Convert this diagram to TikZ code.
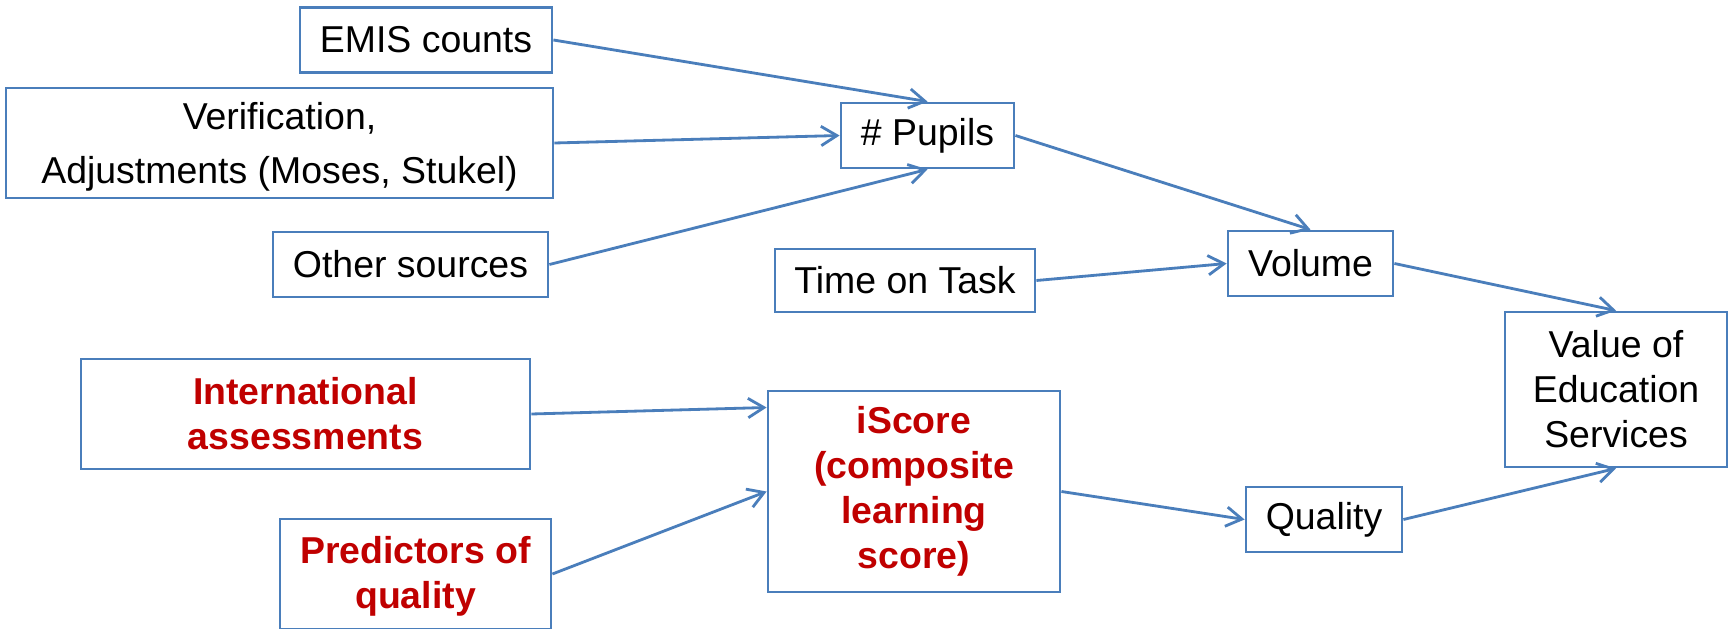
\documentclass[tikz,border=0pt]{standalone}
\usepackage{fontspec}
\setmainfont{Liberation Sans}
\usetikzlibrary{arrows.meta,calc}
\definecolor{boxblue}{HTML}{4A7EBB}
\definecolor{darkred}{HTML}{C00000}
\begin{document}
\begin{tikzpicture}[x=0.2mm,y=-0.2mm,
  sz/.style 2 args={minimum width=#1*0.2mm, minimum height=#2*0.2mm},
  box/.style={draw=boxblue,line width=1.6pt,fill=white,inner sep=0pt,align=center,
    font=\fontsize{21.3pt}{25.6pt}\selectfont},
  redbox/.style={box,text=darkred,font=\fontsize{21.3pt}{25.6pt}\selectfont\bfseries},
  conn/.style={draw=boxblue,line width=1.6pt,-{Straight Barb[length=9pt,width=11pt]}}]
\clip (0,0) rectangle (1729,629);
\fill[white] (0,0) rectangle (1729,629);

\node[box,sz={252}{65}] (emis) at (426,40) {EMIS counts};
\node[box,sz={547}{110}] (verif) at (279.5,143) {\rule{0pt}{20pt}Verification,\\[5pt]Adjustments (Moses, Stukel)};
\node[box,sz={275}{65}] (other) at (410.5,264.5) {Other sources};
\node[box,sz={173}{65}] (pupils) at (927.5,135.5) {\# Pupils};
\node[box,sz={260}{63}] (time) at (905,280.5) {Time on Task};
\node[box,sz={165}{65}] (volume) at (1310.5,263.5) {Volume};
\node[box,sz={222}{155}] (value) at (1616,389.5) {Value of\\Education\\Services};
\node[redbox,sz={449}{110}] (intl) at (305.5,414) {International\\assessments};
\node[redbox,sz={271}{110}] (pred) at (415.5,574) {\rule{0pt}{18pt}Predictors of\\quality};
\node[redbox,sz={292}{201}] (iscore) at (914,491.5) {iScore\\(composite\\learning\\score)};
\node[box,sz={156}{65}] (quality) at (1324,519.5) {Quality};

\draw[conn] (emis.east) -- (pupils.north);
\draw[conn] (verif.east) -- (pupils.west);
\draw[conn] (other.east) -- (pupils.south);
\draw[conn] (pupils.east) -- (volume.north);
\draw[conn] (time.east) -- (volume.west);
\draw[conn] (volume.east) -- (value.north);
\draw[conn] (intl.east) -- ($(iscore.west)+(0,-84)$);
\draw[conn] (pred.east) -- (iscore.west);
\draw[conn] (iscore.east) -- (quality.west);
\draw[conn] (quality.east) -- (value.south);
\end{tikzpicture}
\end{document}
